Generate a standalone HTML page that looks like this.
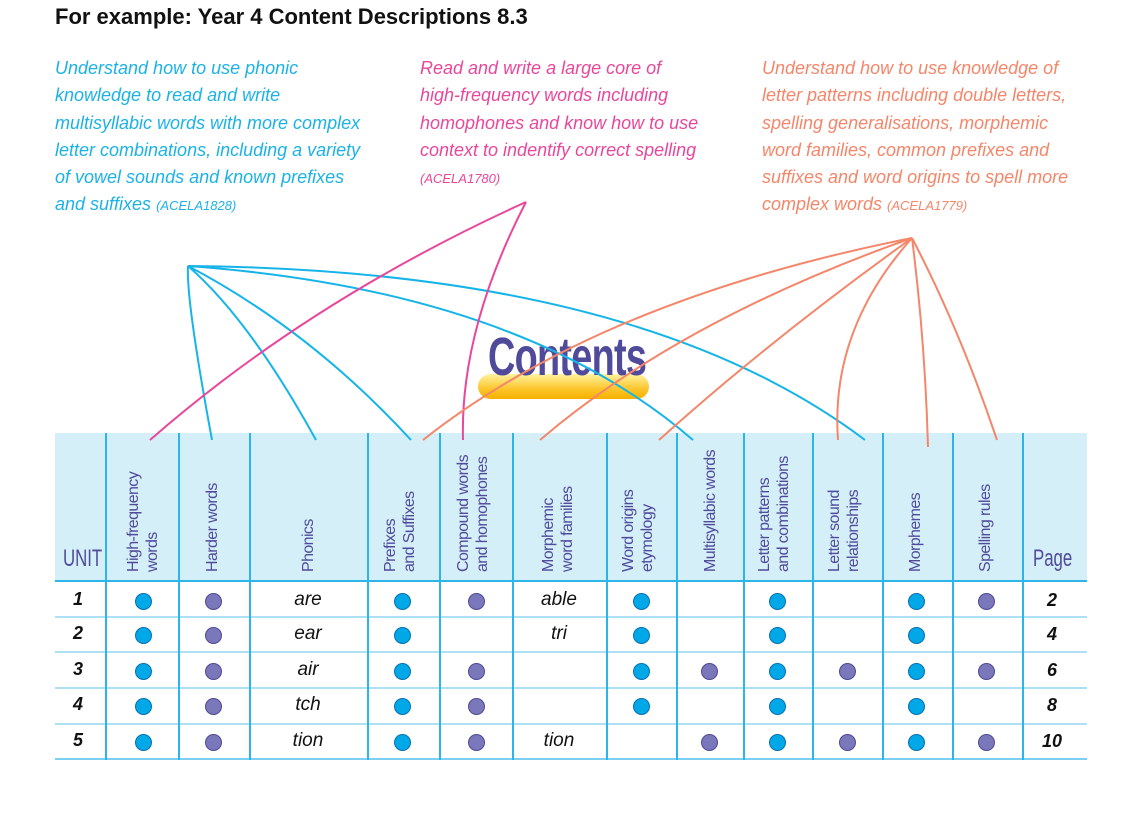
<!DOCTYPE html>
<html><head><meta charset="utf-8"><style>
body{margin:0;width:1140px;height:814px;background:#fff;position:relative;overflow:hidden;font-family:"Liberation Sans",sans-serif}
.t{position:absolute;font-style:italic;font-size:18px;line-height:27.3px}
.t small{font-size:13px}
.h{position:absolute;top:433px;height:148px;background:#d5eff9}
.vl{position:absolute;top:433px;width:1.5px;height:327px;background:#2bb5ea}
.hl{position:absolute;left:55px;width:1032px;height:2px;background:#aee0f5}
.hd{position:absolute;top:440px;height:132px;color:#4f4a9a;font-size:16px;line-height:19px;letter-spacing:-0.6px;writing-mode:vertical-rl;transform:rotate(180deg);text-align:start;white-space:nowrap}
.d{position:absolute;width:17px;height:17px;border-radius:50%;box-sizing:border-box}
.b{background:#00a8e8;border:1.5px solid #0a6fb0}
.p{background:#7a77bb;border:1.5px solid #4e4a93}
.c{position:absolute;font-style:italic;font-size:19px;transform:translateX(-50%);color:#111}
</style></head><body>
<div style="position:absolute;left:55px;top:4px;font-weight:bold;font-size:22px;color:#111">For example: Year 4 Content Descriptions 8.3</div>
<div class="t" style="left:55px;top:55px;color:#1cb2e6">Understand how to use phonic<br>knowledge to read and write<br>multisyllabic words with more complex<br>letter combinations, including a variety<br>of vowel sounds and known prefixes<br>and suffixes <small>(ACELA1828)</small></div>
<div class="t" style="left:420px;top:55px;color:#e8479b">Read and write a large core of<br>high-frequency words including<br>homophones and know how to use<br>context to indentify correct spelling<br><small>(ACELA1780)</small></div>
<div class="t" style="left:762px;top:55px;color:#f4866a">Understand how to use knowledge of<br>letter patterns including double letters,<br>spelling generalisations, morphemic<br>word families, common prefixes and<br>suffixes and word origins to spell more<br>complex words <small>(ACELA1779)</small></div>

<div style="position:absolute;left:478px;top:374px;width:171px;height:25px;border-radius:13px;background:linear-gradient(#fff3a0,#fcc52a 60%,#f5b100)"></div>
<div style="position:absolute;left:488px;top:326px;font-size:54px;font-weight:bold;color:#4f4a9a;transform:scaleX(0.7);transform-origin:left;letter-spacing:-1px">Contents</div>

<div class="h" style="left:55px;width:1032px"></div>
<div class="hl" style="top:580px;background:#2bb5ea"></div>
<div class="hl" style="top:616px"></div><div class="hl" style="top:651px"></div><div class="hl" style="top:687px"></div><div class="hl" style="top:723px"></div><div class="hl" style="top:758px;background:#7ccff2"></div>
<div class="vl" style="left:105px"></div><div class="vl" style="left:178px"></div><div class="vl" style="left:249px"></div><div class="vl" style="left:367px"></div><div class="vl" style="left:439px"></div><div class="vl" style="left:512px"></div><div class="vl" style="left:606px"></div><div class="vl" style="left:676px"></div><div class="vl" style="left:743px"></div><div class="vl" style="left:812px"></div><div class="vl" style="left:882px"></div><div class="vl" style="left:952px"></div><div class="vl" style="left:1022px"></div>

<div style="position:absolute;left:63px;top:545px;font-size:24px;color:#4f4a9a;transform:scaleX(0.7);transform-origin:left">UNIT</div>
<div style="position:absolute;left:1033px;top:545px;font-size:24px;color:#4f4a9a;transform:scaleX(0.7);transform-origin:left">Page</div>
<div class="hd" style="left:124px">High-frequency<br>words</div>
<div class="hd" style="left:203px">Harder words</div>
<div class="hd" style="left:299px">Phonics</div>
<div class="hd" style="left:381px">Prefixes<br>and Suffixes</div>
<div class="hd" style="left:454px">Compound words<br>and homophones</div>
<div class="hd" style="left:539px">Morphemic<br>word families</div>
<div class="hd" style="left:619px">Word origins<br>etymology</div>
<div class="hd" style="left:701px">Multisyllabic words</div>
<div class="hd" style="left:755px">Letter patterns<br>and combinations</div>
<div class="hd" style="left:825px">Letter sound<br>relationships</div>
<div class="hd" style="left:906px">Morphemes</div>
<div class="hd" style="left:976px">Spelling rules</div>

<div id="rows"></div>
<script>
var ys=[601,635,671,706,742],cols=[143,213,402,476,641,709,777,847,916,986];
var R=[["b","p","b","p","b","","b","","b","p"],["b","p","b","","b","","b","","b",""],["b","p","b","p","b","p","b","p","b","p"],["b","p","b","p","b","","b","","b",""],["b","p","b","p","","p","b","p","b","p"]];
var words=["are","ear","air","tch","tion"],mw=["able","tri","","","tion"],pg=["2","4","6","8","10"],h="";
for(var i=0;i<5;i++){var y=ys[i];
h+='<div class="c" style="left:78px;top:'+(y-12)+'px;font-weight:bold;font-size:18px">'+(i+1)+'</div>';
h+='<div class="c" style="left:308px;top:'+(y-12)+'px">'+words[i]+'</div>';
h+='<div class="c" style="left:559px;top:'+(y-12)+'px">'+mw[i]+'</div>';
h+='<div class="c" style="left:1052px;top:'+(y-11)+'px;font-weight:bold;font-size:18px">'+pg[i]+'</div>';
for(var j=0;j<10;j++)if(R[i][j])h+='<div class="d '+R[i][j]+'" style="left:'+(cols[j]-8.5)+'px;top:'+(y-8.5)+'px"></div>';}
document.getElementById('rows').innerHTML=h;
</script>

<svg width="1140" height="814" style="position:absolute;left:0;top:0" fill="none" stroke-width="2">
<g stroke="#16b4e8">
<path d="M188 266 Q186 300 212 440"/>
<path d="M188 266 Q250 320 316 440"/>
<path d="M188 266 Q310 330 411 440"/>
<path d="M188 266 Q520 290 693 440"/>
<path d="M188 266 Q640 270 865 440"/>
</g>
<g stroke="#e8479b">
<path d="M526 202 Q310 300 150 440"/>
<path d="M526 202 Q460 330 463 440"/>
</g>
<g stroke="#f4866a">
<path d="M912 238 Q600 300 423 440"/>
<path d="M912 238 Q680 320 540 440"/>
<path d="M912 238 Q770 340 659 440"/>
<path d="M912 238 Q830 330 838 440"/>
<path d="M912 238 Q925 340 928 447"/>
<path d="M912 238 Q960 330 997 440"/>
</g>
</svg>
</body></html>
